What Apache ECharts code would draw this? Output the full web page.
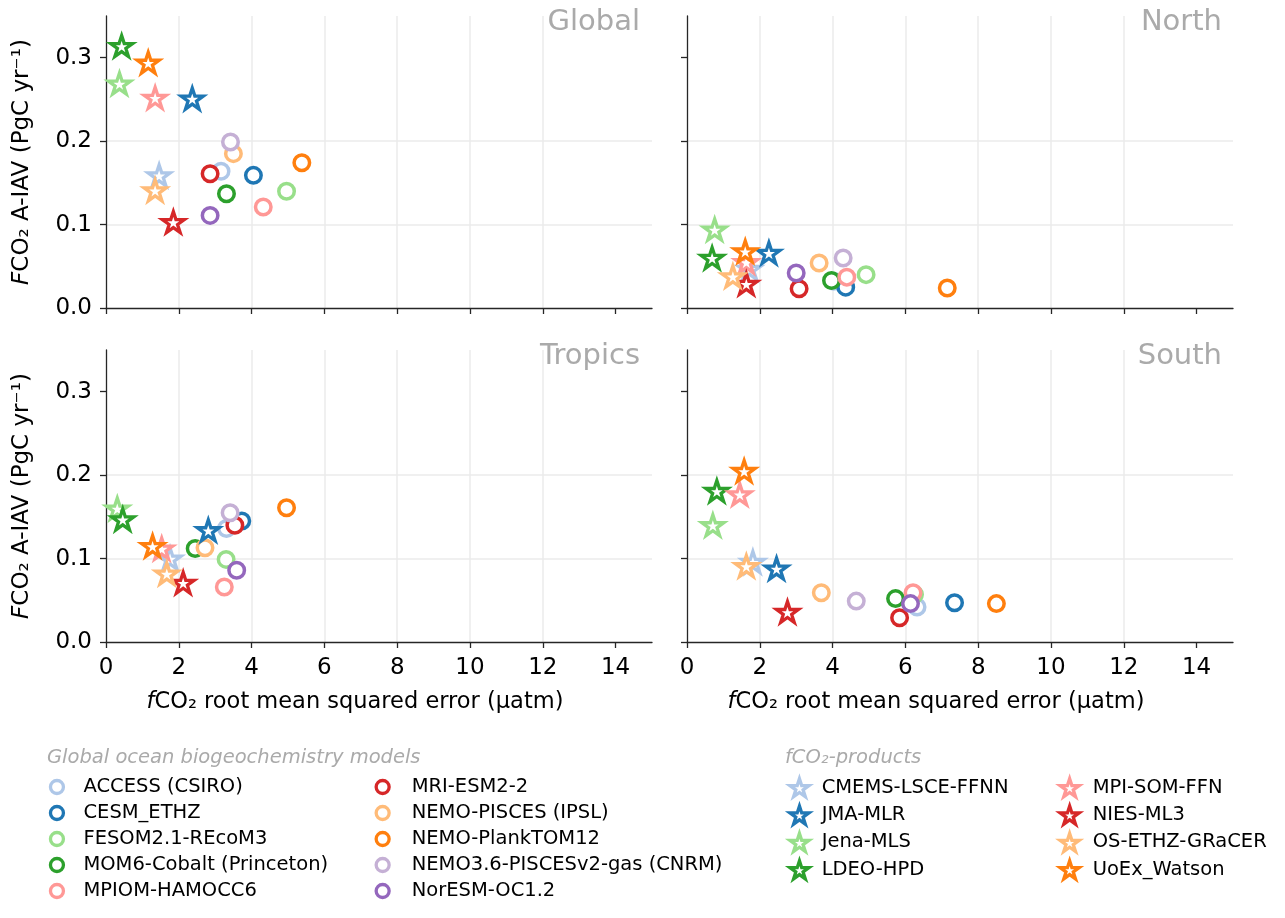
<!DOCTYPE html>
<html>
<head>
<meta charset="utf-8">
<script src="https://cdn.jsdelivr.net/npm/echarts@6/dist/echarts.min.js"></script>
<style>
html, body { margin: 0; padding: 0; background: #fff; }
#main { width: 1285px; height: 918px; }
</style>
</head>
<body>
<div id="main"></div>
<script>
var models = ['ACCESS (CSIRO)', 'CESM_ETHZ', 'FESOM2.1-REcoM3', 'MOM6-Cobalt (Princeton)', 'MPIOM-HAMOCC6',
    'MRI-ESM2-2', 'NEMO-PISCES (IPSL)', 'NEMO-PlankTOM12', 'NEMO3.6-PISCESv2-gas (CNRM)', 'NorESM-OC1.2'];
var modelColors = ['#aec7e8', '#1f77b4', '#98df8a', '#2ca02c', '#ff9896',
    '#d62728', '#ffbb78', '#ff7f0e', '#c5b0d5', '#9467bd'];
var products = ['CMEMS-LSCE-FFNN', 'JMA-MLR', 'Jena-MLS', 'LDEO-HPD',
    'MPI-SOM-FFN', 'NIES-ML3', 'OS-ETHZ-GRaCER', 'UoEx_Watson'];
var productColors = ['#aec7e8', '#1f77b4', '#98df8a', '#2ca02c',
    '#ff9896', '#d62728', '#ffbb78', '#ff7f0e'];
var regions = ['Global', 'North', 'Tropics', 'South'];

var xTicks = [0, 2, 4, 6, 8, 10, 12, 14];
var yTicks = [0, 0.1, 0.2, 0.3];

// [rmse, A-IAV] per model / product, same order as the name lists
var globalModels = [[3.16, 0.164], [4.05, 0.159], [4.96, 0.140], [3.31, 0.137], [4.32, 0.121],
    [2.86, 0.161], [3.50, 0.185], [5.38, 0.174], [3.42, 0.199], [2.86, 0.111]];
var globalProducts = [[1.46, 0.159], [2.37, 0.251], [0.37, 0.269], [0.43, 0.314],
    [1.35, 0.252], [1.85, 0.103], [1.35, 0.141], [1.16, 0.294]];

var northModels = [[4.03, 0.032], [4.36, 0.025], [4.92, 0.040], [3.97, 0.033], [4.39, 0.037],
    [3.08, 0.023], [3.63, 0.054], [7.15, 0.024], [4.29, 0.060], [3.00, 0.042]];
var northProducts = [[1.72, 0.047], [2.25, 0.066], [0.76, 0.094], [0.69, 0.060],
    [1.63, 0.055], [1.63, 0.029], [1.26, 0.038], [1.60, 0.068]];

var tropicsModels = [[3.31, 0.136], [3.73, 0.145], [3.30, 0.099], [2.45, 0.112], [3.25, 0.066],
    [3.54, 0.140], [2.72, 0.113], [4.96, 0.161], [3.41, 0.155], [3.59, 0.086]];
var tropicsProducts = [[1.76, 0.100], [2.81, 0.134], [0.31, 0.160], [0.46, 0.147],
    [1.53, 0.112], [2.12, 0.071], [1.67, 0.082], [1.28, 0.115]];

var southModels = [[6.32, 0.042], [7.35, 0.047], [6.25, 0.057], [5.73, 0.052], [6.21, 0.059],
    [5.84, 0.029], [3.69, 0.059], [8.50, 0.046], [4.65, 0.049], [6.14, 0.046]];
var southProducts = [[1.81, 0.096], [2.46, 0.088], [0.71, 0.140], [0.82, 0.181],
    [1.45, 0.177], [2.76, 0.036], [1.63, 0.091], [1.57, 0.205]];

var regionModels = [globalModels, northModels, tropicsModels, southModels];
var regionProducts = [globalProducts, northProducts, tropicsProducts, southProducts];

var FONT = '"DejaVu Sans", sans-serif';
var STAR = 'path://M100,0L122.45,69.1L195.1,69.1L136.33,111.8L158.78,180.9L100,138.2L41.22,180.9L63.67,111.8L4.9,69.1L77.55,69.1Z';
var axisColor = '#262626';

var chart = echarts.init(document.getElementById('main'));

var grids = [
    { left: 106, top: 16, width: 546, height: 292 },
    { left: 687, top: 16, width: 546, height: 292 },
    { left: 106, top: 350, width: 546, height: 292 },
    { left: 687, top: 350, width: 546, height: 292 }
];

var xAxes = [], yAxes = [], series = [], titles = [];

regions.forEach(function (region, i) {
    var isBottom = i >= 2;
    var isLeft = i % 2 === 0;

    xAxes.push({
        type: 'value', gridIndex: i, min: 0, max: 15, interval: 2,
        axisLine: { show: true, onZero: false, lineStyle: { color: axisColor, width: 1.3 } },
        axisTick: { show: true, length: 6, customValues: xTicks, lineStyle: { color: axisColor, width: 1.3 } },
        axisLabel: { show: isBottom, customValues: xTicks, fontSize: 23, color: '#000', margin: 15, fontFamily: FONT },
        splitLine: { show: true, showMinLine: false, showMaxLine: false, lineStyle: { color: '#ebebeb', width: 1.5 } },
        name: isBottom ? '{i|f}CO₂ root mean squared error (µatm)' : '',
        nameLocation: 'middle', nameGap: 49,
        nameTextStyle: { fontSize: 22.5, color: '#000', fontFamily: FONT, padding: [0, 48, 0, 0],
            rich: { i: { fontStyle: 'italic', fontSize: 22.5, color: '#000', fontFamily: FONT } } }
    });

    yAxes.push({
        type: 'value', gridIndex: i, min: 0, max: 0.35, interval: 0.1,
        axisLine: { show: true, onZero: false, lineStyle: { color: axisColor, width: 1.3 } },
        axisTick: { show: true, length: 6, customValues: yTicks, lineStyle: { color: axisColor, width: 1.3 } },
        axisLabel: { show: isLeft, customValues: yTicks, fontSize: 23, color: '#000', margin: 14, fontFamily: FONT,
            formatter: function (v) { return v.toFixed(1); } },
        splitLine: { show: true, showMinLine: false, showMaxLine: false, lineStyle: { color: '#ebebeb', width: 1.5 } },
        name: isLeft ? '{i|F}CO₂ A-IAV (PgC yr⁻¹)' : '',
        nameLocation: 'middle', nameGap: 72,
        nameTextStyle: { fontSize: 23, color: '#000', fontFamily: FONT,
            rich: { i: { fontStyle: 'italic', fontSize: 23, color: '#000', fontFamily: FONT } } }
    });

    titles.push({
        text: region,
        right: isLeft ? 645 : 63,
        top: isBottom ? 342 : 8,
        padding: 0,
        textStyle: { color: '#aaaaaa', fontSize: 29, fontWeight: 'normal', fontFamily: FONT }
    });

    models.forEach(function (name, k) {
        series.push({
            type: 'scatter', name: name, xAxisIndex: i, yAxisIndex: i,
            data: [regionModels[i][k]],
            symbol: 'circle', symbolSize: 15.5,
            itemStyle: { color: '#fff', borderColor: modelColors[k], borderWidth: 3.5, opacity: 1 },
            emphasis: { disabled: true }
        });
    });
    products.forEach(function (name, k) {
        series.push({
            type: 'scatter', name: name, xAxisIndex: i, yAxisIndex: i,
            data: [regionProducts[i][k]],
            symbol: STAR, symbolSize: 22, symbolKeepAspect: true,
            itemStyle: { color: '#fff', borderColor: productColors[k], borderWidth: 3.3, opacity: 1 },
            emphasis: { disabled: true }
        });
    });
});

titles.push({
    text: 'Global ocean biogeochemistry models', left: 47, top: 748, padding: 0,
    textStyle: { color: '#aaaaaa', fontSize: 19.5, fontStyle: 'italic', fontWeight: 'normal', fontFamily: FONT }
});
titles.push({
    text: 'fCO₂-products', left: 785, top: 748, padding: 0,
    textStyle: { color: '#aaaaaa', fontSize: 19.5, fontStyle: 'italic', fontWeight: 'normal', fontFamily: FONT }
});

function legendCol(names, left, iconSize, textPad) {
    return {
        data: names, orient: 'vertical', left: left, top: 777, padding: 0,
        itemWidth: iconSize, itemHeight: iconSize, itemGap: 6, selectedMode: false,
        itemStyle: { borderWidth: 3.3, opacity: 1 },
        textStyle: { fontSize: 19.5, lineHeight: 20, color: '#000', fontFamily: FONT, padding: [0, 0, 0, textPad] }
    };
}

chart.setOption({
    animation: false,
    backgroundColor: '#fff',
    title: titles,
    grid: grids,
    xAxis: xAxes,
    yAxis: yAxes,
    legend: [
        legendCol(models.slice(0, 5), 48.8, 13, 15),
        legendCol(models.slice(5), 374.5, 13, 17.5),
        legendCol(products.slice(0, 4), 788.3, 19, 7.7),
        legendCol(products.slice(4), 1058.5, 19, 8.5)
    ],
    series: series
});
</script>
</body>
</html>
